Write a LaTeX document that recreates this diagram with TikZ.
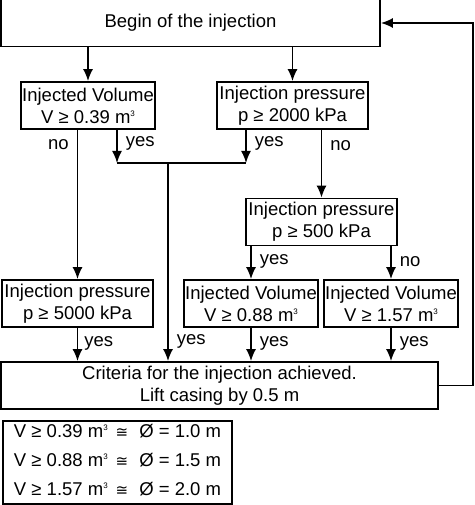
\documentclass[tikz,border=0pt]{standalone}
\usepackage{fontspec}
\setmainfont{Liberation Sans}
\newfontfamily\symfont{DejaVu Sans}
\usetikzlibrary{arrows.meta}
\newcommand{\cub}{\raisebox{7pt}{\fontsize{8}{8}\selectfont 3}}
\newcommand{\approxeq}{{\symfont\fontsize{15}{15}\selectfont ≅}}
\tikzset{
 box/.style={draw,line width=1.7pt,inner sep=0pt,minimum height=47pt,align=center},
 arr/.style={line width=1.7pt,-{Latex[length=12pt,width=10pt]}},
 lblr/.style={inner sep=0pt,right,xshift=8pt},
 lbll/.style={inner sep=0pt,left,xshift=-8pt}
}

\begin{document}
\begin{tikzpicture}[x=1pt,y=-1pt,font=\fontsize{18.5}{22}\selectfont]
 \useasboundingbox (0,0) rectangle (474,505);
 \node[box,minimum width=379pt] (begin) at (190.5,23) {Begin of the injection};
 \node[box,minimum width=134pt] (vol1) at (88,105.5) {Injected Volume\\V ≥ 0.39 m\cub};
 \node[box,minimum width=151pt] (pres2) at (292.5,105.5) {Injection pressure\\p ≥ 2000 kPa};
 \node[box,minimum width=151pt] (pres3) at (321.5,222) {Injection pressure\\p ≥ 500 kPa};
 \node[box,minimum width=151pt] (pres4) at (77.5,303.5) {Injection pressure\\p ≥ 5000 kPa};
 \node[box,minimum width=134pt] (vol5) at (251,303.5) {Injected Volume\\V ≥ 0.88 m\cub};
 \node[box,minimum width=134pt] (vol6) at (391,303.5) {Injected Volume\\V ≥ 1.57 m\cub};
 \node[box,minimum width=437pt] (crit) at (219.5,385.5) {Criteria for the injection achieved.\\Lift casing by 0.5 m};
 \node[box,minimum width=229pt,minimum height=83pt] (legend) at (117.5,462.5) {%
  \begin{tabular}{@{}l@{\hspace{8pt}}c@{\hspace{11pt}}l@{}}
   V ≥ 0.39 m\cub & \approxeq & Ø = 1.0 m\\[7pt]
   V ≥ 0.88 m\cub & \approxeq & Ø = 1.5 m\\[7pt]
   V ≥ 1.57 m\cub & \approxeq & Ø = 2.0 m
  \end{tabular}};
 \coordinate (j1) at (117,163);
 \coordinate (j2) at (246,163);
 \coordinate (jm) at (168,163);

 \draw[arr] (begin.south -| vol1.north) -- (vol1.north);
 \draw[arr] (begin.south -| pres2.north) -- (pres2.north);
 \draw[arr] (vol1.south -| pres4.north) -- node[lbll,pos=0.1] {no} (pres4.north);
 \draw[arr] (vol1.south -| j1) -- node[lblr,pos=0.41] {yes} (j1);
 \draw[arr] (pres2.south -| j2) -- node[lblr,pos=0.41] {yes} (j2);
 \draw[line width=1.7pt] (j1) -- (j2);
 \draw[arr] (pres2.south -| pres3.north) -- node[lblr,pos=0.23] {no} (pres3.north);
 \draw[arr] (pres3.south -| vol5.north) -- node[lblr,pos=0.47] {yes} (vol5.north);
 \draw[arr] (pres3.south -| vol6.north) -- node[lblr,pos=0.47] {no} (vol6.north);
 \draw[arr] (jm) -- node[lblr,pos=0.9] {yes} (jm |- crit.north);
 \draw[arr] (pres4.south) -- node[lblr,xshift=-2pt,pos=0.46] {yes} (pres4.south |- crit.north);
 \draw[arr] (vol5.south) -- node[lblr,pos=0.46] {yes} (vol5.south |- crit.north);
 \draw[arr] (vol6.south) -- node[lblr,pos=0.46] {yes} (vol6.south |- crit.north);
 \draw[arr] (crit.east) -- ++(34,0) |- (begin.east);
\end{tikzpicture}
\end{document}
